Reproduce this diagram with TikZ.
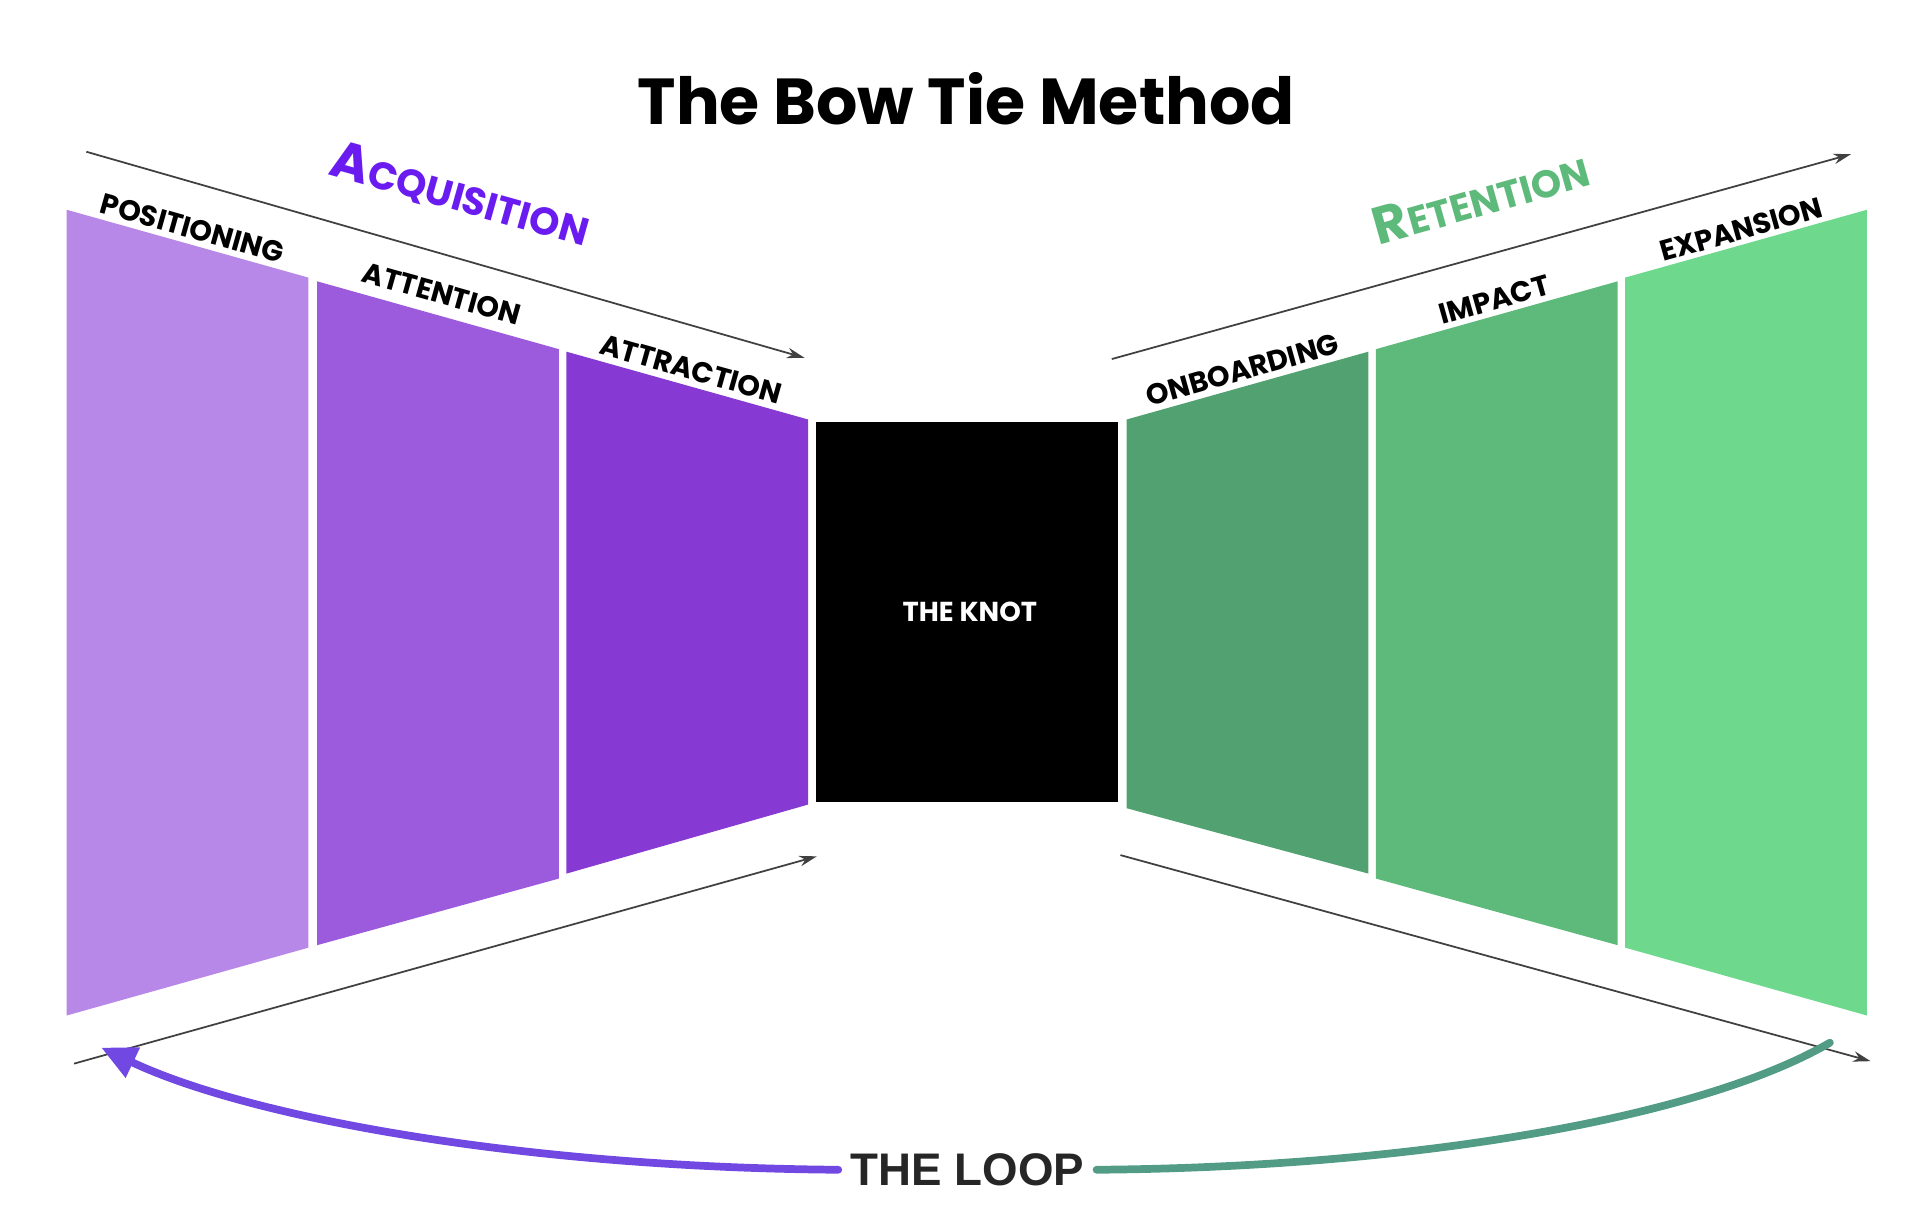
\documentclass[tikz,border=0pt]{standalone}
\usepackage{fontspec}
\setmainfont{Poppins}
\newfontfamily\loopfont{Liberation Sans}
\usetikzlibrary{arrows.meta}
\definecolor{posC}{HTML}{B788E8}
\definecolor{attC}{HTML}{9C5ADC}
\definecolor{atrC}{HTML}{8739D3}
\definecolor{onbC}{HTML}{52A170}
\definecolor{impC}{HTML}{5DBA7B}
\definecolor{expC}{HTML}{6ED98C}
\definecolor{acqC}{HTML}{6A1BF0}
\definecolor{retC}{HTML}{5DBA7B}
\definecolor{loopL}{HTML}{7148E2}
\definecolor{loopR}{HTML}{529C85}

\begin{document}
\begin{tikzpicture}[
    x=0.01234cm, y=-0.01234cm,
    stage/.style={font=\fontsize{8.2}{10}\selectfont\bfseries, inner sep=0pt},
    guide/.style={draw=black!75, line width=0.5pt, -{Stealth[length=5pt,width=3pt]}},
    loop/.style={line width=2.2pt, line cap=round}
]
   \useasboundingbox (0,0) rectangle (1556,996);

   % Title
   \node[font=\fontsize{18.5}{22}\selectfont\bfseries] (title) at (783,80) {The Bow Tie Method};

   % Acquisition panels
   \fill[posC] (54,170) -- (250,225) -- (250,768) -- (54,823) -- cycle;
   \fill[attC] (257,228) -- (453,283) -- (453,712) -- (257,766) -- cycle;
   \fill[atrC] (459,285) -- (655,340) -- (655,652) -- (459,708) -- cycle;

   % The knot
   \fill[black] (661,342) rectangle (906,650);
   \node[font=\fontsize{7.8}{10}\selectfont\bfseries, text=white] (knot) at (786,496) {THE KNOT};

   % Retention panels
   \fill[onbC] (913,340) -- (1109,285) -- (1109,708) -- (913,655) -- cycle;
   \fill[impC] (1115,283) -- (1311,228) -- (1311,766) -- (1115,712) -- cycle;
   \fill[expC] (1317,225) -- (1513,170) -- (1513,823) -- (1317,768) -- cycle;

   % Stage labels
   \node[stage, rotate=-15.7] (pos) at (156,185) {POSITIONING};
   \node[stage, rotate=-15.7] (att) at (358,238) {ATTENTION};
   \node[stage, rotate=-15.7] (atr) at (560,299) {ATTRACTION};
   \node[stage, rotate=15.7] (onb) at (1007,300) {ONBOARDING};
   \node[stage, rotate=15.7] (imp) at (1211,243) {IMPACT};
   \node[stage, rotate=15.7] (exp) at (1411,186) {EXPANSION};

   % Phase labels
   \node[rotate=-15.7, text=acqC, font=\bfseries] (acq) at (373,158)
      {\fontsize{15}{18}\selectfont A\fontsize{11}{14}\selectfont CQUISITION};
   \node[rotate=15.7, text=retC, font=\bfseries] (ret) at (1200,160)
      {\fontsize{15}{18}\selectfont R\fontsize{11}{14}\selectfont ETENTION};

   % Guide arrows
   \coordinate (tlA) at (70,123);   \coordinate (tlB) at (652,290);
   \coordinate (trA) at (901,291);  \coordinate (trB) at (1500,125);
   \coordinate (blA) at (60,862);   \coordinate (blB) at (662,694);
   \coordinate (brA) at (908,693);  \coordinate (brB) at (1516,860);
   \draw[guide] (tlA) -- (tlB);
   \draw[guide] (trA) -- (trB);
   \draw[guide] (blA) -- (blB);
   \draw[guide] (brA) -- (brB);

   % The loop
   \node[font=\loopfont\fontsize{13}{16}\selectfont\bfseries, text=black!85] (loop) at (784,948) {THE LOOP};
   \coordinate (loopEnd) at (82,849);
   \coordinate (loopStart) at (1483,845);
   \draw[loop, loopL, -{Triangle[length=10pt,width=9pt]}]
      (loop.west) .. controls (420,946) and (200,905) .. (loopEnd);
   \draw[loop, loopR]
      (loop.east) .. controls (1150,946) and (1380,905) .. (loopStart);
\end{tikzpicture}
\end{document}
